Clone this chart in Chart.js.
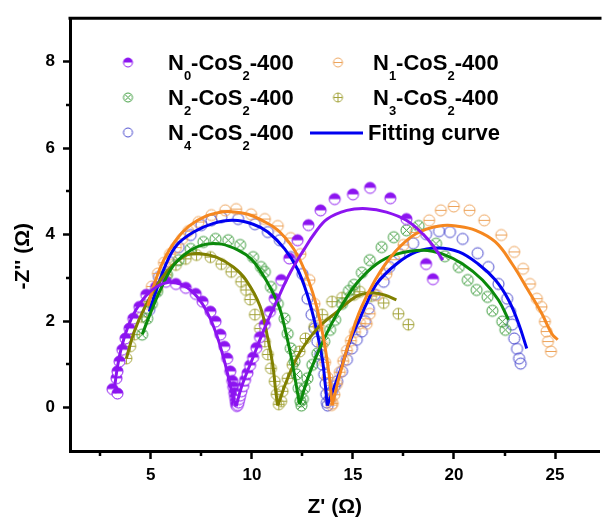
<!DOCTYPE html>
<html>
<head>
<meta charset="utf-8">
<title>Nyquist plots</title>
<script src="https://cdn.jsdelivr.net/npm/chart.js@4.4.1/dist/chart.umd.min.js"></script>
<style>
  html, body { margin: 0; padding: 0; background: #fff; }
  #wrap { width: 606px; height: 520px; }
</style>
</head>
<body>
<div id="wrap"><canvas id="nyquist" width="606" height="520"></canvas></div>
<script>
// measured impedance, Z' / -Z'' in ohm
const n0X = [3.10, 3.35, 3.30, 3.35, 3.45, 3.59, 3.74, 3.94, 4.13, 4.43, 4.77, 5.26, 5.75, 6.24, 6.73, 7.22, 7.56, 7.95, 8.20, 8.44, 8.64, 8.78, 8.93, 9.03, 9.08, 9.13, 9.17, 9.20, 9.22, 9.25,
  9.30, 9.34, 9.38, 9.42, 9.48, 9.57, 9.66, 9.78, 9.91, 10.06, 10.22, 10.40, 10.64, 10.89, 11.13, 11.45, 11.85, 12.26, 12.80, 13.40, 14.10, 15.00, 15.85, 16.85, 17.65, 18.62, 18.96];
const n0Y = [0.43, 0.33, 0.68, 0.84, 1.07, 1.34, 1.60, 1.83, 2.06, 2.33, 2.61, 2.79, 2.91, 2.86, 2.77, 2.63, 2.45, 2.22, 1.99, 1.69, 1.41, 1.14, 0.84, 0.62, 0.48, 0.34, 0.24, 0.15, 0.08, 0.04,
  0.06, 0.12, 0.20, 0.28, 0.38, 0.50, 0.64, 0.80, 0.98, 1.16, 1.38, 1.63, 1.92, 2.22, 2.52, 2.95, 3.45, 3.87, 4.22, 4.56, 4.82, 4.93, 5.08, 4.84, 4.36, 3.32, 2.97];

const n1X = [4.80, 5.05, 5.35, 5.65, 5.95, 6.24, 6.55, 6.85, 7.36, 8.00, 8.68, 9.22, 9.96, 10.64, 11.28, 11.92, 12.40, 12.85, 13.10, 13.30, 13.48, 13.62, 13.74, 13.84, 13.90, 13.95,
  14.00, 14.08, 14.20, 14.35, 14.52, 14.70, 14.90, 15.10, 15.35, 15.68, 15.83, 16.20, 16.66, 17.05, 17.50, 18.10, 18.77, 19.35, 19.99, 20.77, 21.50, 22.34, 22.98, 23.42, 23.76, 24.10, 24.33, 24.50, 24.58, 24.65, 24.80];
const n1Y = [2.40, 2.80, 3.10, 3.35, 3.55, 3.70, 3.90, 4.08, 4.29, 4.45, 4.56, 4.59, 4.47, 4.36, 4.20, 3.92, 3.55, 2.95, 2.40, 1.90, 1.45, 1.05, 0.70, 0.40, 0.18, 0.06,
  0.10, 0.30, 0.55, 0.82, 1.08, 1.32, 1.55, 1.75, 1.95, 1.94, 2.17, 2.60, 3.09, 3.42, 3.76, 4.05, 4.33, 4.56, 4.65, 4.56, 4.33, 3.99, 3.60, 3.21, 2.86, 2.52, 2.33, 1.99, 1.76, 1.53, 1.30];

const n2X = [4.57, 4.82, 5.05, 5.31, 5.80, 6.38, 6.97, 7.60, 8.20, 8.83, 9.42, 10.06, 10.45, 10.64, 10.94, 11.28, 11.62, 11.77, 11.92, 12.11, 12.21, 12.31, 12.40, 12.45,
  12.52, 12.60, 12.75, 12.99, 13.24, 13.58, 13.87, 14.12, 14.46, 14.80, 15.05, 15.44, 15.83, 16.42, 17.02, 17.65, 18.25, 19.11, 19.55, 20.24, 20.68, 21.12, 21.66, 21.90, 22.39, 22.54];
const n2Y = [1.69, 2.06, 2.40, 2.68, 3.07, 3.41, 3.67, 3.83, 3.90, 3.87, 3.76, 3.48, 3.25, 3.14, 2.79, 2.40, 2.06, 1.71, 1.37, 1.07, 0.77, 0.45, 0.15, 0.05,
  0.20, 0.45, 0.68, 0.99, 1.25, 1.53, 1.80, 2.03, 2.40, 2.70, 2.84, 3.12, 3.41, 3.71, 3.94, 4.10, 4.20, 3.79, 3.50, 3.25, 2.95, 2.72, 2.56, 2.24, 1.99, 1.80];

const n3X = [3.79, 3.98, 4.18, 4.55, 4.92, 5.31, 5.75, 6.24, 6.73, 7.26, 7.95, 8.49, 8.98, 9.47, 9.71, 9.91, 10.15, 10.40, 10.64, 10.79, 10.94, 11.13, 11.23, 11.33,
  11.45, 11.52, 11.77, 12.01, 12.36, 12.65, 13.09, 13.48, 13.97, 14.46, 15.05, 15.34, 15.90, 16.52, 17.25, 17.74];
const n3Y = [1.14, 1.42, 1.69, 2.10, 2.45, 2.75, 3.07, 3.30, 3.44, 3.53, 3.48, 3.32, 3.14, 2.91, 2.72, 2.50, 2.15, 1.83, 1.53, 1.23, 0.91, 0.61, 0.31, 0.08,
  0.15, 0.38, 0.68, 0.99, 1.30, 1.60, 1.87, 2.15, 2.45, 2.54, 2.61, 2.68, 2.58, 2.42, 2.17, 1.92];

const n4X = [4.92, 5.15, 5.40, 5.90, 6.38, 6.97, 7.50, 8.00, 8.49, 9.32, 10.15, 10.79, 11.38, 11.92, 12.50, 12.75, 12.95, 13.10, 13.24, 13.38, 13.48, 13.58, 13.64, 13.68, 13.71,
  13.75, 13.85, 13.97, 14.10, 14.22, 14.46, 14.70, 14.95, 15.19, 15.44, 15.60, 15.78, 16.08, 16.52, 16.80, 17.30, 17.98, 18.62, 19.26, 19.80, 20.43, 21.17, 21.70, 22.20, 22.63, 22.78, 22.88, 22.98, 23.12, 23.22, 23.30];
const n4Y = [2.26, 2.65, 3.02, 3.37, 3.71, 3.99, 4.22, 4.33, 4.40, 4.36, 4.24, 4.06, 3.87, 3.48, 3.09, 2.52, 2.15, 1.83, 1.53, 1.23, 1.00, 0.77, 0.55, 0.31, 0.12,
  0.05, 0.20, 0.38, 0.50, 0.61, 0.84, 1.11, 1.37, 1.57, 1.76, 2.00, 2.29, 2.61, 2.91, 3.25, 3.55, 3.80, 4.01, 4.08, 4.06, 3.90, 3.57, 3.25, 2.86, 2.52, 2.22, 1.92, 1.60, 1.36, 1.14, 1.02];

// equivalent-circuit fits
const fit0X = [3.20, 3.35, 3.55, 3.85, 4.25, 4.75, 5.30, 5.90, 6.50, 7.05, 7.55, 7.95, 8.30, 8.60, 8.85, 9.05, 9.22,
  9.50, 9.96, 10.64, 11.28, 11.92, 12.60, 13.09, 13.73, 14.70, 15.68, 16.66, 17.64, 18.47, 19.00, 19.45];
const fit0Y = [0.45, 0.95, 1.40, 1.85, 2.25, 2.58, 2.80, 2.90, 2.85, 2.68, 2.40, 2.05, 1.62, 1.15, 0.68, 0.28, 0.03,
  0.50, 1.05, 1.85, 2.52, 3.14, 3.67, 4.02, 4.36, 4.56, 4.60, 4.52, 4.33, 4.01, 3.72, 3.41];

const fit1X = [4.85, 5.20, 5.65, 6.20, 6.90, 7.70, 8.50, 9.00, 9.80, 10.50, 11.38, 12.26, 13.00, 13.48, 13.82, 13.97,
  14.40, 14.90, 15.40, 16.10, 16.90, 17.80, 18.60, 19.45, 20.10, 21.07, 22.05, 22.88, 23.66, 24.35, 24.84, 25.13];
const fit1Y = [2.35, 2.90, 3.42, 3.85, 4.20, 4.42, 4.52, 4.53, 4.47, 4.33, 4.06, 3.52, 2.67, 1.76, 0.77, 0.06,
  0.85, 1.65, 2.30, 2.95, 3.50, 3.92, 4.12, 4.21, 4.20, 4.10, 3.83, 3.32, 2.72, 2.17, 1.71, 1.57];

const fit2X = [4.57, 5.01, 5.50, 6.14, 6.97, 7.75, 8.50, 9.32, 9.96, 10.45, 10.94, 11.38, 11.67, 11.96, 12.16, 12.36,
  12.89, 13.58, 14.36, 15.20, 16.17, 17.15, 18.47, 19.45, 20.43, 21.41, 22.20, 22.70];
const fit2Y = [1.69, 2.22, 2.75, 3.30, 3.64, 3.78, 3.78, 3.64, 3.44, 3.14, 2.75, 2.29, 1.76, 1.14, 0.61, 0.08,
  0.84, 1.60, 2.29, 2.88, 3.32, 3.55, 3.64, 3.55, 3.32, 2.95, 2.49, 2.03];

const fit3X = [3.79, 4.18, 4.67, 5.31, 5.99, 6.78, 7.46, 8.24, 9.08, 9.71, 10.40, 10.79, 11.03, 11.18, 11.28,
  11.77, 12.40, 13.24, 14.22, 15.20, 16.00, 16.60, 17.15];
const fit3Y = [1.14, 1.76, 2.29, 2.83, 3.25, 3.53, 3.56, 3.48, 3.25, 2.95, 2.35, 1.60, 1.00, 0.38, 0.05,
  0.68, 1.30, 1.83, 2.22, 2.58, 2.65, 2.60, 2.49];

const fit4X = [4.92, 5.30, 5.75, 6.29, 7.12, 8.10, 9.08, 10.06, 10.79, 11.62, 12.26, 12.75, 13.14, 13.48, 13.63, 13.73,
  14.36, 14.85, 15.34, 15.68, 16.17, 17.15, 18.13, 19.20, 20.24, 21.20, 22.05, 22.70, 23.20, 23.60];
const fit4Y = [2.22, 2.75, 3.32, 3.76, 4.06, 4.26, 4.33, 4.24, 4.06, 3.67, 3.20, 2.60, 1.92, 1.14, 0.54, 0.05,
  0.84, 1.53, 2.06, 2.41, 2.86, 3.32, 3.60, 3.69, 3.60, 3.32, 2.95, 2.49, 1.94, 1.37];

const xTicks = [5, 10, 15, 20, 25];
const yTicks = [0, 2, 4, 6, 8];
const xMinor = [2.5, 7.5, 12.5, 17.5, 22.5];
const yMinor = [1, 3, 5, 7];

const FONT = '"Liberation Sans", Arial, Helvetica, sans-serif';

// series: label parts ([text, isSubscript]), marker kind, marker colour, fit colour
const series = [
  { parts: [['N', 0], ['0', 1], ['-CoS', 0], ['2', 1], ['-400', 0]], kind: 'half', mark: '#8c14f0', line: '#8c14f0', xs: n0X, ys: n0Y, fx: fit0X, fy: fit0Y },
  { parts: [['N', 0], ['1', 1], ['-CoS', 0], ['2', 1], ['-400', 0]], kind: 'minus', mark: '#eda35a', line: '#f5871f', xs: n1X, ys: n1Y, fx: fit1X, fy: fit1Y },
  { parts: [['N', 0], ['2', 1], ['-CoS', 0], ['2', 1], ['-400', 0]], kind: 'cross', mark: '#3b9b3b', line: '#0b8a0b', xs: n2X, ys: n2Y, fx: fit2X, fy: fit2Y },
  { parts: [['N', 0], ['3', 1], ['-CoS', 0], ['2', 1], ['-400', 0]], kind: 'plus', mark: '#a3a33a', line: '#808000', xs: n3X, ys: n3Y, fx: fit3X, fy: fit3Y },
  { parts: [['N', 0], ['4', 1], ['-CoS', 0], ['2', 1], ['-400', 0]], kind: 'open', mark: '#4444cc', line: '#0000f0', xs: n4X, ys: n4Y, fx: fit4X, fy: fit4Y }
];

function makeMarker(kind, color, r) {
  const size = Math.ceil(2 * r + 4);
  const c = document.createElement('canvas');
  c.width = c.height = size;
  const g = c.getContext('2d');
  const m = size / 2;
  g.lineWidth = 1;
  g.strokeStyle = color;
  if (kind === 'half') {
    g.fillStyle = '#fff';
    g.beginPath(); g.arc(m, m, r, 0, Math.PI); g.fill();
    g.fillStyle = color;
    g.beginPath(); g.arc(m, m, r, Math.PI, 2 * Math.PI); g.closePath(); g.fill();
  }
  g.beginPath(); g.arc(m, m, r, 0, 2 * Math.PI); g.stroke();
  g.beginPath();
  if (kind === 'minus' || kind === 'plus') {
    g.moveTo(m - r, m); g.lineTo(m + r, m);
  }
  if (kind === 'plus') {
    g.moveTo(m, m - r); g.lineTo(m, m + r);
  }
  if (kind === 'cross') {
    const d = r * 0.707;
    g.moveTo(m - d, m - d); g.lineTo(m + d, m + d);
    g.moveTo(m + d, m - d); g.lineTo(m - d, m + d);
  }
  g.stroke();
  return c;
}

function toPoints(xs, ys) {
  return xs.map((x, i) => ({ x: x, y: ys[i] }));
}

const datasets = [];
series.forEach(s => {
  s.icon = makeMarker(s.kind, s.mark, 5.5);
  s.legendIcon = makeMarker(s.kind, s.mark, 4.5);
  // split the fit at its valley so each arc is smoothed on its own
  let v = 0;
  s.fy.forEach((y, i) => { if (i > 2 && i < s.fy.length - 2 && y < s.fy[v]) v = i; });
  if (v === 0) v = s.fy.indexOf(Math.min(...s.fy));
  const pts = toPoints(s.fx, s.fy);
  [pts.slice(0, v + 1), pts.slice(v)].forEach(arc => {
    datasets.push({
      data: arc, showLine: true, borderColor: s.line, borderWidth: 3,
      pointRadius: 0, tension: 0.4, fill: false, order: 0
    });
  });
  datasets.push({
    data: toPoints(s.xs, s.ys), showLine: false,
    pointStyle: s.icon, pointRadius: 5.5, order: 1
  });
});

// top frame line, short minor ticks and the rotated y title
const framePlugin = {
  id: 'frame',
  afterDraw(chart) {
    const { ctx, chartArea: a, scales } = chart;
    ctx.save();
    ctx.strokeStyle = '#000';
    ctx.lineWidth = 3;
    ctx.beginPath();
    ctx.moveTo(a.left - 1.5, a.top);
    ctx.lineTo(a.right + 2, a.top);
    ctx.stroke();
    ctx.lineWidth = 2.5;
    ctx.beginPath();
    xMinor.forEach(v => {
      const px = Math.round(scales.x.getPixelForValue(v));
      ctx.moveTo(px, a.bottom); ctx.lineTo(px, a.bottom + 5);
    });
    yMinor.forEach(v => {
      const py = Math.round(scales.y.getPixelForValue(v));
      ctx.moveTo(a.left, py); ctx.lineTo(a.left - 4, py);
    });
    ctx.stroke();

    ctx.translate(23, scales.y.getPixelForValue(3.5));
    ctx.rotate(-Math.PI / 2);
    ctx.fillStyle = '#000';
    ctx.font = 'bold 21px ' + FONT;
    ctx.textAlign = 'center';
    ctx.textBaseline = 'middle';
    ctx.fillText("-Z'' (Ω)", 0, 0);
    ctx.restore();
  }
};

function drawLabel(ctx, parts, x, y) {
  parts.forEach(([t, sub]) => {
    ctx.font = sub ? 'bold 13px ' + FONT : 'bold 22px ' + FONT;
    ctx.fillText(t, x, sub ? y + 10 : y);
    x += ctx.measureText(t).width;
  });
}

// two-column legend with subscripted sample names
const legendPlugin = {
  id: 'sampleLegend',
  afterDraw(chart) {
    const ctx = chart.ctx;
    const cols = [{ mx: 128, tx: 168 }, { mx: 338, tx: 373 }];
    const rows = [70, 105, 140];
    ctx.save();
    ctx.fillStyle = '#000';
    ctx.textBaseline = 'alphabetic';
    ctx.textAlign = 'left';
    series.forEach((s, i) => {
      const c = cols[i % 2];
      const base = rows[Math.floor(i / 2)];
      const ic = s.legendIcon;
      ctx.drawImage(ic, c.mx - ic.width / 2, base - 7.5 - ic.height / 2);
      drawLabel(ctx, s.parts, c.tx, base);
    });
    ctx.strokeStyle = '#0000f0';
    ctx.lineWidth = 3;
    ctx.beginPath();
    ctx.moveTo(310, rows[2] - 7);
    ctx.lineTo(363, rows[2] - 7);
    ctx.stroke();
    ctx.font = 'bold 22px ' + FONT;
    ctx.fillText('Fitting curve', 368, rows[2]);
    ctx.restore();
  }
};

Chart.defaults.font.family = FONT;
Chart.defaults.font.weight = 'bold';
Chart.defaults.color = '#000';

new Chart(document.getElementById('nyquist'), {
  type: 'scatter',
  data: { datasets: datasets },
  options: {
    responsive: false,
    animation: false,
    devicePixelRatio: 1,
    layout: { padding: { top: 15, right: 0, left: 0, bottom: 0 } },
    plugins: { legend: { display: false }, tooltip: { enabled: false } },
    scales: {
      x: {
        type: 'linear', position: 'bottom', min: 1, max: 27.2,
        afterBuildTicks: s => { s.ticks = xTicks.map(v => ({ value: v })); },
        afterFit: s => { s.height = 69; },
        ticks: { font: { size: 17, weight: 'bold' }, padding: 6, maxRotation: 0 },
        grid: { drawOnChartArea: false, drawTicks: true, tickLength: 8, tickWidth: 2.5, tickColor: '#000' },
        border: { display: true, width: 3, color: '#000' },
        title: { display: true, text: "Z' (Ω)", font: { size: 21, weight: 'bold' }, padding: 0 }
      },
      y: {
        type: 'linear', position: 'left', min: -1, max: 9,
        afterBuildTicks: s => { s.ticks = yTicks.map(v => ({ value: v })); },
        afterFit: s => { s.width = 70; },
        ticks: { font: { size: 17, weight: 'bold' }, padding: 8 },
        grid: { drawOnChartArea: false, drawTicks: true, tickLength: 7, tickWidth: 2.5, tickColor: '#000' },
        border: { display: true, width: 3, color: '#000' },
        title: { display: false }
      }
    }
  },
  plugins: [framePlugin, legendPlugin]
});
</script>
</body>
</html>
